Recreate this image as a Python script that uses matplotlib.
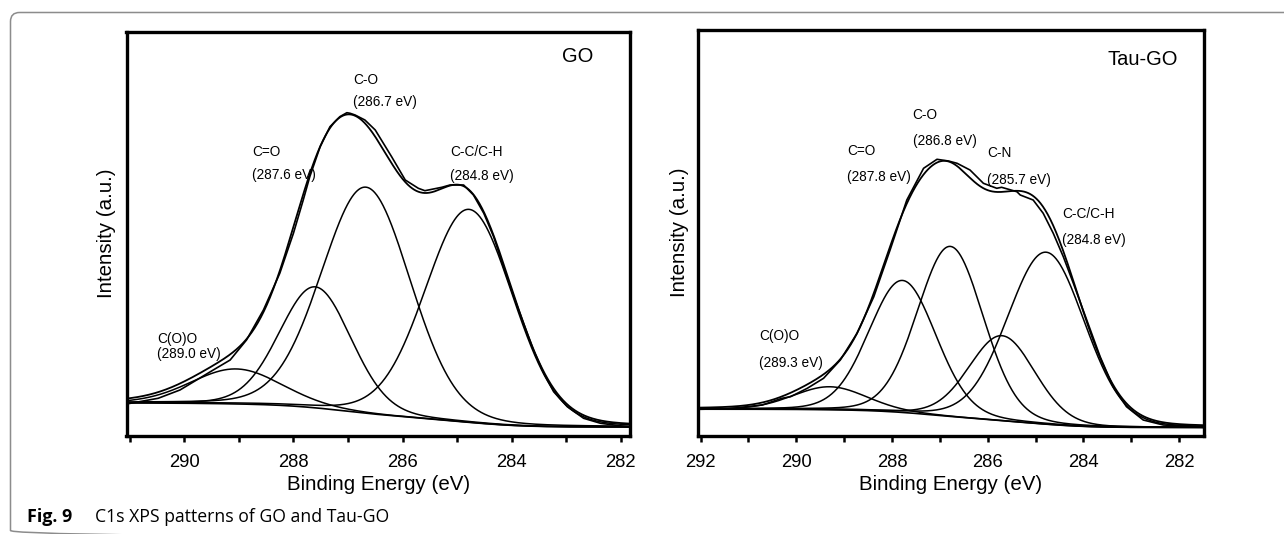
import numpy as np
import matplotlib
matplotlib.use("Agg")
import matplotlib.pyplot as plt
from matplotlib.patches import FancyBboxPatch
from matplotlib.ticker import MultipleLocator, FixedLocator

# ---------------- data ----------------
# GO: fitted components (binding energy eV, height above background, FWHM eV)
go_names = ["C(O)O", "C=O", "C-O", "C-C/C-H"]
go_centers = [289.05, 287.6, 286.67, 284.78]
go_heights = [35, 121, 226, 213]
go_fwhm = [1.95, 1.55, 1.92, 1.9]
go_bg_high_be = 32.5   # background level at the high binding energy side
go_bg_low_be = 8.5     # background level at the low binding energy side
# GO measured spectrum (binding energy, intensity)
go_raw_be = [291.06, 290.48, 290.08, 289.47, 289.16, 288.86, 288.55, 288.25,
             288.00, 287.82, 287.70, 287.51, 287.33, 287.15, 287.02, 286.96,
             286.87, 286.69, 286.50, 286.20, 285.95, 285.71, 285.59, 285.28,
             285.13, 284.88, 284.70, 284.51, 284.33, 284.15, 283.96, 283.78,
             283.60, 283.41, 283.23, 282.98, 282.68, 282.37, 281.88]
go_raw_int = [31.5, 37.2, 45.5, 65.5, 75.5, 95.5, 125.5, 162.2,
              202.2, 235.5, 258.8, 288.8, 308.8, 318.8, 322.8, 322.2,
              320.5, 315.5, 305.5, 278.8, 255.5, 247.2, 244.8, 248.2,
              250.5, 250.5, 240.5, 222.2, 198.8, 168.8, 138.8, 112.2,
              85.5, 62.2, 43.8, 28.8, 17.2, 12.2, 8.8]

# Tau-GO
tau_names = ["C(O)O", "C=O", "C-O", "C-N", "C-C/C-H"]
tau_centers = [289.3, 287.78, 286.78, 285.7, 284.78]
tau_heights = [23, 132, 170, 85, 172]
tau_fwhm = [1.8, 1.65, 1.62, 1.62, 1.9]
tau_bg_high_be = 26.3
tau_bg_low_be = 8.0
tau_raw_be = [292.04, 291.41, 290.71, 290.30, 290.12, 289.77, 289.43, 289.08,
              288.73, 288.38, 288.04, 287.69, 287.34, 287.06, 286.82, 286.64,
              286.37, 286.09, 285.81, 285.71, 285.39, 285.32, 285.05, 284.84,
              284.63, 284.42, 284.21, 283.93, 283.65, 283.38, 283.10, 282.75,
              282.33, 281.92, 281.50]
tau_raw_int = [26.2, 26.8, 30.5, 37.2, 38.8, 47.2, 57.2, 75.5,
               102.2, 138.8, 185.5, 235.5, 267.2, 276.2, 274.5, 272.2,
               265.5, 252.2, 247.2, 248.2, 243.8, 240.5, 235.5, 222.2,
               202.2, 178.8, 152.2, 115.5, 78.8, 48.8, 28.8, 15.5,
               10.5, 9.5, 8.2]

major_ticks_go = [290, 288, 286, 284, 282]
major_ticks_tau = [292, 290, 288, 286, 284, 282]

# ---------------- helpers ----------------
def peak(x, c, h, w, m=0.1):
    t = (x - c) / w
    g = np.exp(-4 * np.log(2) * t ** 2)
    lo = 1.0 / (1.0 + 4 * t ** 2)
    return h * ((1 - m) * g + m * lo)


def shirley_bg(x, comps, low, high):
    total = np.sum(comps, axis=0)
    cum = np.concatenate([[0], np.cumsum(0.5 * (total[1:] + total[:-1]) * np.diff(x))])
    return low + (high - low) * cum / cum[-1]


W, H = 1284, 534
fig = plt.figure(figsize=(W / 100, H / 100), dpi=100)
plt.rcParams["font.family"] = ["Liberation Sans", "DejaVu Sans"]


def rect(x0, x1, y0, y1):
    return [x0 / W, 1 - y1 / H, (x1 - x0) / W, (y1 - y0) / H]


bg_ax = fig.add_axes([0, 0, 1, 1], zorder=-5)
bg_ax.set_xlim(0, W)
bg_ax.set_ylim(H, 0)
bg_ax.axis("off")
bg_ax.add_patch(FancyBboxPatch((10.5, 12.5), 1400, 527, boxstyle="round,pad=0,rounding_size=9",
                               ec="#8c8c8c", fc="none", lw=1.1))

panels = [
    dict(rect=rect(126.5, 630, 31.5, 435.5), xlim=(291.06, 281.83), ylim=(0, 404),
         centers=go_centers, heights=go_heights, fwhm=go_fwhm,
         bglow=go_bg_low_be, bghigh=go_bg_high_be, raw_be=go_raw_be, raw_int=go_raw_int,
         ticks=major_ticks_go, title="GO", title_pos=(283.07, 378.8),
         labels=[("C(O)O", "(289.0 eV)", 290.50, 96.8, 81.5),
                 ("C=O", "(287.6 eV)", 288.76, 283.8, 260.5),
                 ("C-O", "(286.7 eV)", 286.90, 355.5, 333.8),
                 ("C-C/C-H", "(284.8 eV)", 285.13, 283.8, 259.7)],
         ylab_x=-0.039),
    dict(rect=rect(697.7, 1204, 29.5, 435.5), xlim=(292.06, 281.48), ylim=(0, 406),
         centers=tau_centers, heights=tau_heights, fwhm=tau_fwhm,
         bglow=tau_bg_low_be, bghigh=tau_bg_high_be, raw_be=tau_raw_be, raw_int=tau_raw_int,
         ticks=major_ticks_tau, title="Tau-GO", title_pos=(283.49, 375.8),
         labels=[("C(O)O", "(289.3 eV)", 290.77, 99.7, 73.0),
                 ("C=O", "(287.8 eV)", 288.94, 284.7, 258.7),
                 ("C-O", "(286.8 eV)", 287.57, 320.5, 294.2),
                 ("C-N", "(285.7 eV)", 286.01, 282.2, 255.8),
                 ("C-C/C-H", "(284.8 eV)", 284.45, 221.5, 195.5)],
         ylab_x=-0.035),
]

for p in panels:
    ax = fig.add_axes(p["rect"])
    x = np.linspace(min(p["xlim"]), max(p["xlim"]), 1500)
    comps = [peak(x, c, h, w) for c, h, w in zip(p["centers"], p["heights"], p["fwhm"])]
    bg = shirley_bg(x, comps, p["bglow"], p["bghigh"])
    for cp in comps:
        ax.plot(x, bg + cp, color="black", lw=1.1)
    ax.plot(x, bg, color="black", lw=1.2)
    ax.plot(x, bg + np.sum(comps, axis=0), color="black", lw=1.3)
    ax.plot(p["raw_be"], p["raw_int"], color="black", lw=1.2)

    ax.set_xlim(*p["xlim"])
    ax.set_ylim(*p["ylim"])
    ax.xaxis.set_major_locator(FixedLocator(p["ticks"]))
    ax.xaxis.set_minor_locator(MultipleLocator(1))
    ax.set_yticks([])
    ax.tick_params(axis="x", which="both", direction="out", length=4.5, width=1.8,
                   labelsize=13.3, pad=9, top=False)
    for s in ax.spines.values():
        s.set_linewidth(2.4)
    ax.set_xlabel("Binding Energy (eV)", fontsize=14.8)
    ax.xaxis.set_label_coords(0.5, -0.097)
    ax.set_ylabel("Intensity (a.u.)", fontsize=14.8)
    ax.yaxis.label.set_verticalalignment("center")
    ax.yaxis.set_label_coords(p["ylab_x"], 0.5)
    ax.text(p["title_pos"][0], p["title_pos"][1], p["title"], fontsize=14.5,
            ha="left", va="center")
    for name, val, bx, y1, y2 in p["labels"]:
        ax.text(bx, y1, name, fontsize=9.8, ha="left", va="center")
        ax.text(bx, y2, val, fontsize=9.8, ha="left", va="center")

fig.text(27 / W, 1 - 521.7 / H, "Fig. 9", fontsize=12.9, fontweight="bold",
         family=["Open Sans", "DejaVu Sans"], va="baseline", ha="left")
fig.text(95.4 / W, 1 - 521.7 / H, "C1s XPS patterns of GO and Tau-GO", fontsize=12.7,
         family=["Open Sans", "DejaVu Sans"], va="baseline", ha="left")

fig.savefig("out.png", dpi=100)
